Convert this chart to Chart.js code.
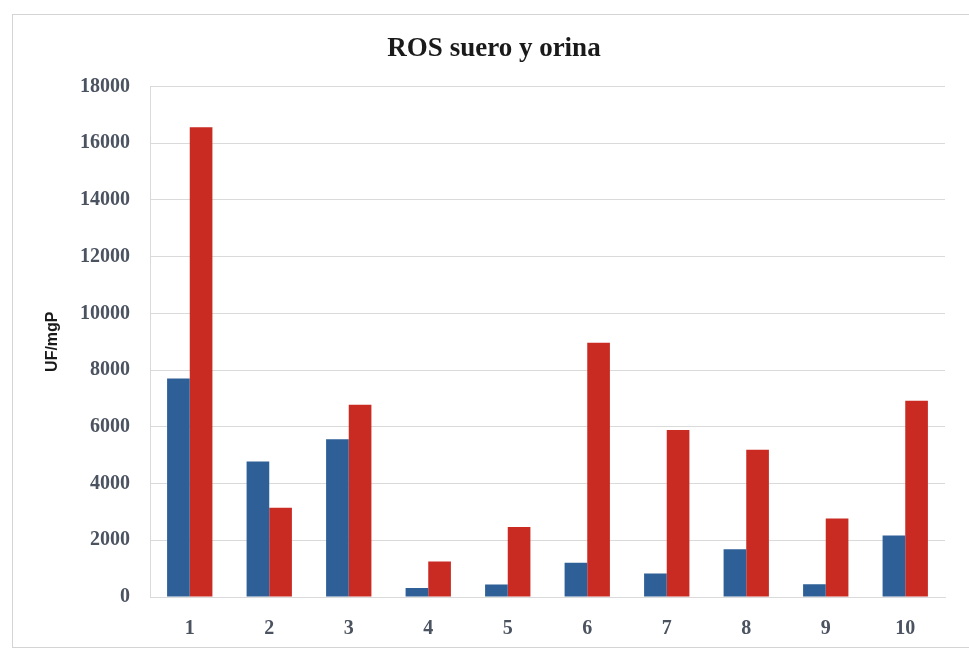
<!DOCTYPE html>
<html>
<head>
<meta charset="utf-8">
<script src="https://cdn.jsdelivr.net/npm/chart.js@4/dist/chart.umd.min.js"></script>
<style>
  html, body { margin: 0; padding: 0; background: #fff; }
  #wrap { position: relative; width: 969px; height: 655px; }
  #frame { position: absolute; left: 12px; top: 14px; width: 960px; height: 634px; border: 1px solid #d4d4d4; box-sizing: border-box; }
  canvas { position: absolute; left: 0; top: 0; }
</style>
</head>
<body>
<div id="wrap">
  <div id="frame"></div>
  <canvas id="chart" width="969" height="655"></canvas>
</div>
<script>
// data
const labels = ['1', '2', '3', '4', '5', '6', '7', '8', '9', '10'];
const suero = [7700, 4780, 5560, 320, 440, 1210, 830, 1680, 450, 2170];
const orina = [16560, 3150, 6780, 1250, 2470, 8960, 5890, 5190, 2770, 6920];
const yTicks = [0, 2000, 4000, 6000, 8000, 10000, 12000, 14000, 16000, 18000];

const tickFont = { family: '"Liberation Serif", serif', size: 20, weight: 'bold' };
const tickColor = '#4b5361';
const gridColor = '#dadada';

const ctx = document.getElementById('chart').getContext('2d');
new Chart(ctx, {
    type: 'bar',
    data: {
        labels: labels,
        datasets: [
            { label: 'Suero', data: suero, backgroundColor: '#2e5f96' },
            { label: 'Orina', data: orina, backgroundColor: '#c92a22' }
        ]
    },
    options: {
        responsive: false,
        animation: false,
        layout: { padding: { left: 43, right: 24, top: 0, bottom: 0 } },
        datasets: { bar: { barPercentage: 1, categoryPercentage: 0.57 } },
        plugins: {
            legend: { display: false },
            tooltip: { enabled: false },
            title: {
                display: true,
                text: 'ROS suero y orina',
                color: '#1a1a1a',
                font: { family: '"Liberation Serif", serif', size: 27, weight: 'bold' },
                padding: { top: 33, bottom: 21 }
            }
        },
        scales: {
            x: {
                grid: { display: false, drawTicks: false },
                border: { display: true, color: gridColor },
                ticks: { color: tickColor, font: tickFont, padding: 20 },
                afterFit: (scale) => { scale.height = 58; }
            },
            y: {
                min: 0,
                max: 18000,
                afterBuildTicks: (scale) => { scale.ticks = yTicks.map(v => ({ value: v })); },
                grid: { color: gridColor, drawTicks: false },
                border: { display: true, color: gridColor },
                ticks: { color: tickColor, font: tickFont, padding: 20, callback: (v) => String(v) },
                title: {
                    display: true,
                    text: 'UF/mgP',
                    color: '#1a1a1a',
                    font: { family: '"Liberation Sans", sans-serif', size: 16, weight: 'bold' },
                    padding: 0
                },
                afterFit: (scale) => { scale.width = 107; }
            }
        }
    }
});
</script>
</body>
</html>
